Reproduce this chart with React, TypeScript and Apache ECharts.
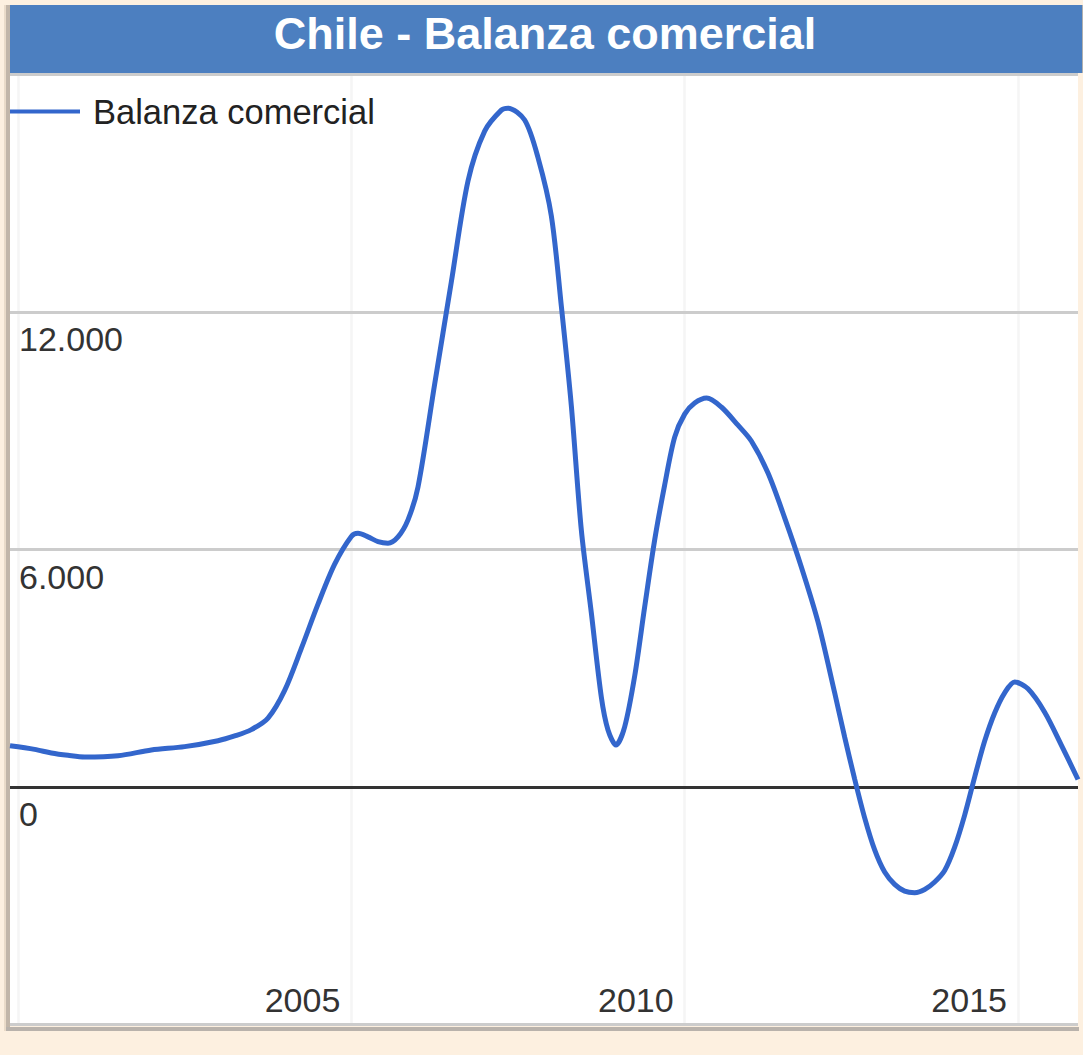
import React, { useEffect, useRef } from "react";
import * as echarts from "echarts";

const titleText = "Chile - Balanza comercial";
const seriesName = "Balanza comercial";

// Points (year, value)
const years = [
  1999.88, 2000.25, 2000.5, 2000.75, 2001.0, 2001.5, 2002.0, 2002.5, 2003.0, 2003.25,
  2003.5, 2003.75, 2004.0, 2004.25, 2004.5, 2004.75, 2005.0, 2005.1, 2005.25, 2005.4,
  2005.55, 2005.7, 2005.85, 2006.0, 2006.25, 2006.5, 2006.75, 2007.0, 2007.25, 2007.35,
  2007.6, 2007.8, 2008.0, 2008.15, 2008.3, 2008.45, 2008.6, 2008.75, 2008.85, 2008.97,
  2009.1, 2009.25, 2009.4, 2009.55, 2009.7, 2009.85, 2010.0, 2010.15, 2010.33, 2010.55,
  2010.8, 2011.0, 2011.25, 2011.5, 2011.75, 2012.0, 2012.25, 2012.4, 2012.55, 2012.7,
  2012.85, 2013.0, 2013.15, 2013.3, 2013.45, 2013.6, 2013.75, 2013.9, 2014.05, 2014.2,
  2014.35, 2014.5, 2014.65, 2014.8, 2014.95, 2015.15, 2015.4, 2015.65, 2015.9,
];
const values = [
  1040, 950, 860, 800, 758, 790, 935, 1020, 1170, 1290,
  1450, 1740, 2440, 3500, 4620, 5630, 6330, 6410, 6320, 6200,
  6160, 6320, 6750, 7580, 10180, 12760, 15310, 16570, 17100, 17150,
  16850, 15900, 14430, 12150, 9630, 6490, 4400, 2270, 1440, 1061,
  1520, 2800, 4550, 6240, 7630, 8840, 9420, 9700, 9827, 9600,
  9140, 8740, 7930, 6800, 5560, 4170, 2380, 1260, 200, -780,
  -1590, -2150, -2460, -2630, -2670, -2590, -2400, -2110, -1520, -710,
  250, 1160, 1870, 2380, 2653, 2480, 1890, 1060, 190,
];

const xGridYears = [2000, 2005, 2010, 2015];
const xLabelYears = [2005, 2010, 2015];
const yMin = -6000;
const yMax = 18000;
const yStep = 6000;

const fmt = (v: number) => String(v).replace(/\B(?=(\d{3})+(?!\d))/g, ".");

export default function App() {
  const ref = useRef<HTMLDivElement>(null);
  useEffect(() => {
    document.body.style.margin = "0";
    if (!ref.current) return;
    const chart = echarts.init(ref.current, null, { renderer: "svg" });
    const font = "'Liberation Sans', Arial, sans-serif";
    chart.setOption({
      animation: false,
      backgroundColor: "#fdf0e0",
      textStyle: { fontFamily: font },
      title: {
        text: titleText,
        left: 545,
        top: 11,
        padding: 0,
        textAlign: "center",
        textStyle: { fontSize: 45, fontWeight: "bold", color: "#ffffff", lineHeight: 45, fontFamily: font },
        z: 10,
      },
      legend: {
        data: [seriesName],
        left: 10,
        top: 94,
        padding: 0,
        icon: "rect",
        itemWidth: 70,
        itemHeight: 4,
        textStyle: { fontSize: 34.5, color: "#222222", lineHeight: 34, padding: [0, 0, 0, 8], fontFamily: font },
      },
      graphic: [
        { type: "rect", shape: { x: 10, y: 5, width: 1072, height: 68 }, style: { fill: "#4c7fc0" }, z: -1 },
        { type: "rect", shape: { x: 1082, y: 5, width: 1, height: 68 }, style: { fill: "#b0b0b0" }, z: -1 },
        { type: "rect", shape: { x: 6, y: 5, width: 4, height: 1026 }, style: { fill: "#c2b6a9" }, z: -1 },
        { type: "rect", shape: { x: 4, y: 5, width: 2, height: 1026 }, style: { fill: "#eadbc9" }, z: -1 },
        { type: "rect", shape: { x: 6, y: 1027, width: 1073, height: 4 }, style: { fill: "#b9b2ab" }, z: -1 },
      ],
      grid: {
        left: 10,
        top: 74.5,
        width: 1068,
        height: 950,
        show: true,
        backgroundColor: "#ffffff",
        borderWidth: 0,
      },
      xAxis: {
        type: "value",
        min: 1999.88,
        max: 2015.9,
        z: 0,
        axisLine: { show: false, onZero: false },
        axisTick: { show: false, customValues: xGridYears },
        splitLine: { show: true, lineStyle: { color: "#f5f5f5", width: 2.5 } },
        axisLabel: {
          customValues: xLabelYears,
          inside: true,
          margin: 8,
          align: "right",
          padding: [0, 11, 0, 0],
          fontSize: 34,
          lineHeight: 34,
          color: "#333333",
          fontFamily: font,
          formatter: (v: number) => String(Math.round(v)),
        },
      },
      yAxis: {
        type: "value",
        min: yMin,
        max: yMax,
        interval: yStep,
        z: 1,
        axisLine: { show: false },
        axisTick: { show: false },
        splitLine: {
          show: true,
          lineStyle: { color: ["#cccccc", "#333333", "#cccccc", "#cccccc", "#cccccc"], width: 3 },
        },
        axisLabel: {
          inside: true,
          margin: 9,
          align: "left",
          verticalAlign: "top",
          padding: [10, 0, 0, 0],
          fontSize: 34,
          lineHeight: 34,
          color: "#333333",
          fontFamily: font,
          formatter: (v: number) => (v < 0 || v > 12000 ? "" : fmt(v)),
        },
      },
      series: [
        {
          name: seriesName,
          type: "line",
          data: years.map((y, i) => [y, values[i]]),
          smooth: 0.3,
          symbol: "none",
          showSymbol: false,
          lineStyle: { color: "#3366cc", width: 5 },
          itemStyle: { color: "#3366cc" },
          z: 5,
        },
      ],
    });
    return () => chart.dispose();
  }, []);
  return <div ref={ref} style={{ width: 1083, height: 1055 }} />;
}
